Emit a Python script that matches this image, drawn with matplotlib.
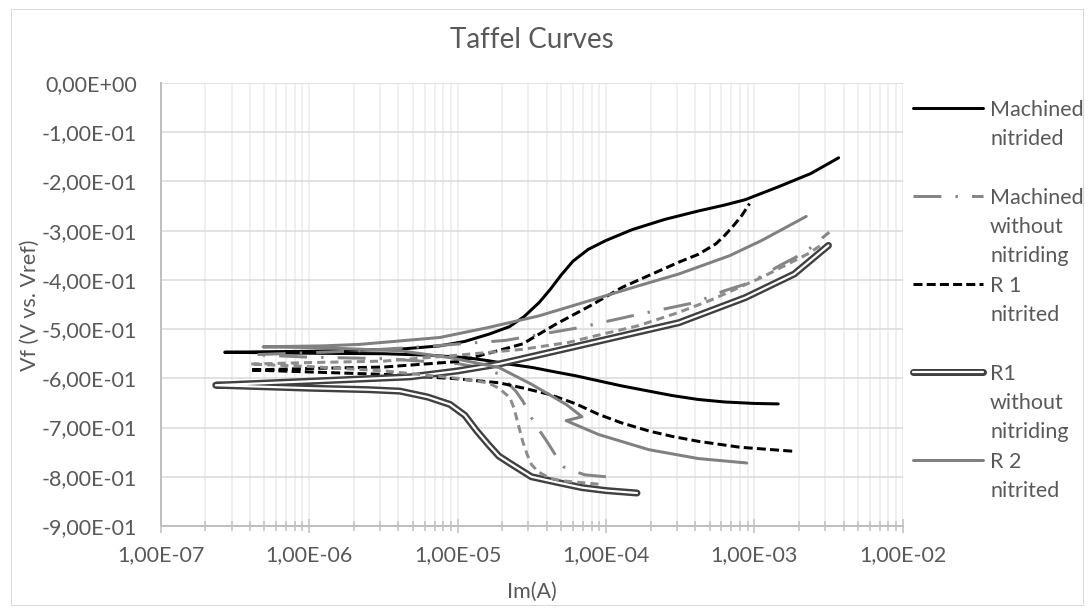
import matplotlib
matplotlib.use('Agg')
import matplotlib.pyplot as plt
from matplotlib.lines import Line2D
from matplotlib.patches import Rectangle
from matplotlib.ticker import LogLocator, FuncFormatter, NullFormatter, FixedLocator

plt.rcParams['font.family'] = ['Lato', 'DejaVu Sans']

# ---------------- data ----------------
# each curve: end of the cathodic branch -> corrosion tip -> end of the anodic branch
mn_I = [1.45e-3, 1.0e-3, 6.3e-4, 4.2e-4, 2.8e-4, 1.95e-4, 1.26e-4, 8.9e-5, 6.3e-5, 4.2e-5,
        3.2e-5, 2.2e-5, 1.6e-5, 1.15e-5, 6.3e-6, 3.2e-6, 1.0e-6, 2.7e-7,
        1.0e-6, 4.0e-6, 7.6e-6, 1.12e-5, 1.64e-5, 2.24e-5, 2.8e-5, 3.55e-5, 4.2e-5, 5.0e-5,
        6.0e-5, 7.6e-5, 1.0e-4, 1.5e-4, 2.5e-4, 4.2e-4, 6.3e-4, 8.7e-4, 1.45e-3, 2.4e-3, 3.7e-3]
mn_V = [-0.652, -0.651, -0.648, -0.643, -0.635, -0.626, -0.615, -0.605, -0.595, -0.585,
        -0.578, -0.571, -0.564, -0.558, -0.553, -0.550, -0.549, -0.547,
        -0.545, -0.541, -0.534, -0.525, -0.510, -0.495, -0.475, -0.446, -0.420, -0.390,
        -0.362, -0.338, -0.320, -0.298, -0.277, -0.260, -0.248, -0.237, -0.211, -0.184, -0.152]

mw_I = [1.0e-4, 7.2e-5, 6.3e-5, 5.2e-5, 4.6e-5, 4.0e-5, 3.55e-5, 3.15e-5, 3.0e-5, 2.75e-5,
        2.5e-5, 2.2e-5, 1.9e-5, 1.4e-5, 1.0e-5, 3.2e-6, 1.0e-6, 4.2e-7,
        1.0e-6, 2.2e-6, 6.3e-6, 2.1e-5, 6.6e-5, 1.66e-4, 4.0e-4, 6.3e-4, 9.5e-4, 1.48e-3, 2.2e-3, 3.2e-3]
mw_V = [-0.800, -0.796, -0.790, -0.780, -0.757, -0.728, -0.705, -0.680, -0.665, -0.646,
        -0.628, -0.610, -0.591, -0.578, -0.570, -0.560, -0.557, -0.552,
        -0.548, -0.544, -0.535, -0.523, -0.497, -0.470, -0.446, -0.422, -0.405, -0.371, -0.344, -0.303]

r1n_I = [1.8e-3, 8.0e-4, 4.2e-4, 2.8e-4, 1.95e-4, 1.26e-4, 8.9e-5, 6.3e-5, 4.2e-5, 2.8e-5,
         1.9e-5, 1.26e-5, 1.0e-5, 3.2e-6, 1.0e-6, 4.0e-7,
         1.0e-6, 3.2e-6, 1.0e-5, 1.26e-5, 2.75e-5, 4.6e-5, 7.8e-5, 1.29e-4, 3.1e-4, 4.2e-4,
         5.5e-4, 6.3e-4, 7.1e-4, 8.2e-4, 9.3e-4]
r1n_V = [-0.748, -0.740, -0.728, -0.718, -0.707, -0.690, -0.673, -0.652, -0.633, -0.620,
         -0.609, -0.604, -0.601, -0.592, -0.587, -0.583,
         -0.580, -0.577, -0.566, -0.558, -0.530, -0.490, -0.453, -0.415, -0.364, -0.348,
         -0.327, -0.310, -0.293, -0.270, -0.245]

r1w_I = [1.62e-4, 1.0e-4, 6.9e-5, 4.8e-5, 3.15e-5, 2.24e-5, 1.9e-5, 1.62e-5, 1.35e-5, 1.12e-5,
         8.9e-6, 6.3e-6, 4.1e-6, 2.5e-6, 1.0e-6, 2.35e-7,
         1.0e-6, 4.8e-6, 1.0e-5, 1.9e-5, 5.9e-5, 3.1e-4, 8.7e-4, 1.86e-3, 3.16e-3]
r1w_V = [-0.833, -0.828, -0.822, -0.812, -0.800, -0.772, -0.758, -0.735, -0.707, -0.675,
         -0.653, -0.638, -0.626, -0.623, -0.620, -0.614,
         -0.606, -0.597, -0.585, -0.571, -0.537, -0.487, -0.436, -0.388, -0.330]

r2n_I = [8.9e-4, 4.2e-4, 1.95e-4, 8.9e-5, 5.4e-5, 6.9e-5, 5.4e-5, 3.15e-5, 1.9e-5, 8.9e-6,
         4.1e-6, 1.26e-6, 4.9e-7,
         1.26e-6, 2.2e-6, 7.6e-6, 1.6e-5, 3.55e-5, 7.8e-5, 1.66e-4, 3.1e-4, 6.8e-4, 1.12e-3, 2.24e-3]
r2n_V = [-0.772, -0.763, -0.745, -0.714, -0.686, -0.678, -0.653, -0.612, -0.578, -0.558,
         -0.544, -0.538, -0.536,
         -0.534, -0.531, -0.517, -0.497, -0.473, -0.442, -0.412, -0.388, -0.351, -0.320, -0.271]

r2w_I = [8.9e-5, 5.0e-5, 4.2e-5, 3.5e-5, 3.15e-5, 2.95e-5, 2.75e-5, 2.6e-5, 2.4e-5, 2.25e-5,
         1.9e-5, 1.6e-5, 1.0e-5, 3.2e-6, 1.0e-6, 4.0e-7,
         1.0e-6, 3.2e-6, 1.0e-5, 2.75e-5, 5.6e-5, 1.05e-4, 1.66e-4, 3.1e-4, 5.1e-4, 1.12e-3, 2.3e-3, 2.8e-3]
r2w_V = [-0.815, -0.808, -0.803, -0.790, -0.775, -0.755, -0.728, -0.700, -0.660, -0.639,
         -0.620, -0.609, -0.600, -0.585, -0.576, -0.571,
         -0.568, -0.565, -0.553, -0.541, -0.527, -0.507, -0.493, -0.466, -0.441, -0.395, -0.347, -0.330]

legend_labels = ["Machined\nnitrided", "Machined\nwithout\nnitriding", "R 1\nnitrited",
                 "R1\nwithout\nnitriding", "R 2\nnitrited"]
title_text = "Taffel Curves"
xlabel_text = "Im(A)"
ylabel_text = "Vf (V vs. Vref)"
y_ticks = [0.0, -0.1, -0.2, -0.3, -0.4, -0.5, -0.6, -0.7, -0.8, -0.9]
x_ticks = [1e-7, 1e-6, 1e-5, 1e-4, 1e-3, 1e-2]

# ---------------- layout / style ----------------
W, H = 1088, 610
PX = 0.72  # points per pixel at dpi 100
TXT = '#595959'
FS = 15.5

fig = plt.figure(figsize=(W / 100, H / 100), dpi=100)
fig.patch.set_facecolor('white')
fig.add_artist(Rectangle((10.5 / W, 1 - 604.5 / H), (1082.5 - 10.5) / W, (604.5 - 8.5) / H,
                         transform=fig.transFigure, fill=False, edgecolor='#d9d9d9', lw=1.0 * PX))

L, R, T, B = 160.7, 902.7, 83.0, 526.0
ax = fig.add_axes([L / W, 1 - B / H, (R - L) / W, (B - T) / H])
ax.set_xscale('log')
ax.set_xlim(1e-7, 1e-2)
ax.set_ylim(-0.9, 0.0)

ax.xaxis.set_major_locator(FixedLocator(x_ticks))
ax.xaxis.set_minor_locator(LogLocator(base=10, subs=range(2, 10), numticks=20))
ax.xaxis.set_minor_formatter(NullFormatter())
ax.set_yticks(y_ticks)

fmt = FuncFormatter(lambda v, p: f"{v:.2E}".replace('.', ','))
ax.xaxis.set_major_formatter(fmt)
ax.yaxis.set_major_formatter(fmt)

ax.grid(True, axis='y', which='major', color='#d9d9d9', lw=1.5 * PX)
ax.grid(True, axis='x', which='both', color='#ececec', lw=1.5 * PX)
ax.set_axisbelow(True)

for s in ('top', 'right'):
    ax.spines[s].set_visible(False)
for s in ('left', 'bottom'):
    ax.spines[s].set_color('#bfbfbf')
    ax.spines[s].set_linewidth(2 * PX)

ax.tick_params(axis='x', which='major', direction='inout', length=14 * PX, width=1.5 * PX,
               color='#bfbfbf', labelsize=FS, labelcolor=TXT, pad=12 * PX)
ax.tick_params(axis='x', which='minor', direction='inout', length=10 * PX, width=1.5 * PX,
               color='#bfbfbf')
ax.tick_params(axis='y', which='both', length=0, labelsize=FS, labelcolor=TXT, pad=24 * PX)

LW = 3 * PX
styles = {
    'mn': dict(color='black', lw=LW, solid_capstyle='round', solid_joinstyle='round'),
    'mw': dict(color='#858585', lw=LW, dashes=(9.3, 4.7, 0.8, 4.7), dash_capstyle='butt'),
    'r1n': dict(color='black', lw=LW, dashes=(3.0, 1.4), dash_capstyle='butt'),
    'r2n': dict(color='#808080', lw=LW, solid_capstyle='round', solid_joinstyle='round'),
    'r2w': dict(color='#8c8c8c', lw=LW, dashes=(2.7, 1.7), dash_capstyle='butt'),
}
outer = dict(color='#404040', lw=7 * PX, solid_capstyle='round', solid_joinstyle='round')
inner = dict(color='white', lw=2.2 * PX, solid_capstyle='round', solid_joinstyle='round')

ax.plot(mn_I, mn_V, **styles['mn'])
ax.plot(mw_I, mw_V, **styles['mw'])
ax.plot(r1n_I, r1n_V, **styles['r1n'])
ax.plot(r1w_I, r1w_V, **outer)
ax.plot(r1w_I, r1w_V, **inner)
ax.plot(r2n_I, r2n_V, **styles['r2n'])
ax.plot(r2w_I, r2w_V, **styles['r2w'])

# titles
fig.text(532 / W, 1 - 40 / H, title_text, ha='center', va='center', fontsize=20, color=TXT)
fig.text(532 / W, 1 - 592 / H, xlabel_text, ha='center', va='center', fontsize=FS, color=TXT)
fig.text(30 / W, 1 - 305 / H, ylabel_text, ha='center', va='center', rotation=90,
         fontsize=FS, color=TXT)

# legend (manual, Excel-like: handle aligned with first text line)
handle_styles = [[styles['mn']], [styles['mw']], [styles['r1n']], [outer, inner], [styles['r2n']]]
y0, step, dy = 108, 88, 29
for i, (lab, hs) in enumerate(zip(legend_labels, handle_styles)):
    yc = y0 + i * step
    for st in hs:
        fig.add_artist(Line2D([913 / W, 983 / W], [1 - yc / H, 1 - yc / H],
                              transform=fig.transFigure, **st))
    for k, line in enumerate(lab.split('\n')):
        fig.text(990 / W, 1 - (yc + k * dy) / H, line, ha='left', va='center_baseline',
                 fontsize=FS, color=TXT)

fig.savefig('out.png', dpi=100)
